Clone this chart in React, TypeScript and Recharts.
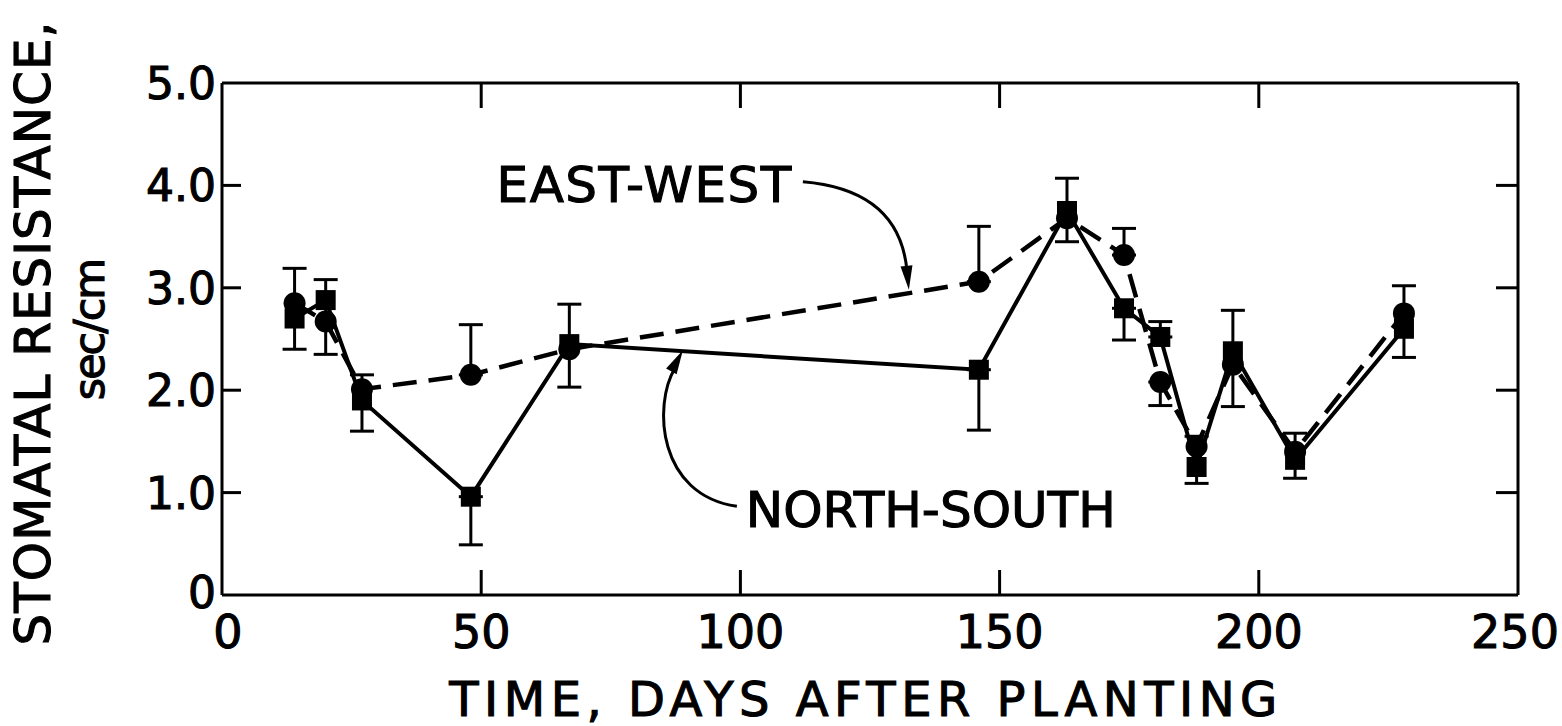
import React from 'react';
import { LineChart, Line, XAxis, YAxis, ErrorBar, ReferenceDot } from 'recharts';

// days after planting
const days = [14, 20, 27, 48, 67, 146, 163, 174, 181, 188, 195, 207, 228];
// stomatal resistance, sec/cm
const eastWest = [2.85, 2.67, 2.01, 2.15, 2.4, 3.06, 3.68, 3.32, 2.08, 1.45, 2.25, 1.4, 2.75];
const northSouth = [2.7, 2.88, 1.9, 0.96, 2.45, 2.2, 3.75, 2.8, 2.52, 1.25, 2.38, 1.32, 2.6];
// error bar ends (null where the series has no bar of its own)
const eastWestBarLow = [2.4, 2.35, 1.6, 2.15, 2.03, 3.06, 3.45, 3.32, 1.85, 1.09, 1.84, 1.14, 2.32];
const eastWestBarHigh = [3.19, 3.08, 2.15, 2.64, 2.84, 3.6, 4.07, 3.58, 2.08, 1.55, 2.78, 1.58, 3.02];
const northSouthBarLow = [null, null, null, 0.49, null, 1.61, null, 2.49, 2.52, null, null, null, null];
const northSouthBarHigh = [null, null, null, 0.96, null, 2.2, null, 2.8, 2.67, null, null, null, null];

const xTicks = [0, 50, 100, 150, 200, 250];
const yTicks = [0, 1, 2, 3, 4, 5];

const FONT = '"DejaVu Sans", sans-serif';
const INK = { fill: '#000', stroke: '#000', strokeWidth: 1.1 };

const toErr = (v: number, lo: number | null, hi: number | null) =>
  lo == null || hi == null ? undefined : [v - lo, hi - v];

const data = days.map((d, i) => ({
  day: d,
  ew: eastWest[i],
  ns: northSouth[i],
  ewErr: toErr(eastWest[i], eastWestBarLow[i], eastWestBarHigh[i]),
  nsErr: toErr(northSouth[i], northSouthBarLow[i], northSouthBarHigh[i]),
}));

const inner = (v: number, min: number, max: number) => v > min && v < max;

const BottomTick = ({ x, y, payload }: any) => (
  <g>
    {inner(payload.value, 0, 250) && (
      <line x1={x} x2={x} y1={y} y2={y - 25} stroke="#000" strokeWidth={3} />
    )}
    <text
      x={payload.value === 0 ? x + 6 : payload.value === 250 ? x - 3 : x}
      y={y + 53}
      textAnchor="middle"
      fontSize={46}
      fontFamily={FONT}
      {...INK}
    >
      {payload.value}
    </text>
  </g>
);

const TopTick = ({ x, y, payload }: any) =>
  inner(payload.value, 0, 250) ? (
    <line x1={x} x2={x} y1={y} y2={y + 25} stroke="#000" strokeWidth={3} />
  ) : (
    <g />
  );

const LeftTick = ({ x, y, payload }: any) => (
  <g>
    {inner(payload.value, 0, 5) && (
      <line x1={x} x2={x + 19} y1={y} y2={y} stroke="#000" strokeWidth={3} />
    )}
    <text
      x={x - 6}
      y={payload.value === 0 ? y + 13 : y + 16}
      textAnchor="end"
      fontSize={44}
      fontFamily={FONT}
      {...INK}
    >
      {payload.value === 0 ? '0' : payload.value.toFixed(1)}
    </text>
  </g>
);

const RightTick = ({ x, y, payload }: any) =>
  inner(payload.value, 0, 5) ? (
    <line x1={x} x2={x - 22} y1={y} y2={y} stroke="#000" strokeWidth={3} />
  ) : (
    <g />
  );

const SquareDot = (props: any) => {
  const { cx, cy } = props;
  if (cx == null || cy == null) return <g />;
  return <rect x={cx - 10} y={cy - 10} width={20} height={20} fill="#000" />;
};

// filled arrowhead pointing from (fx,fy) towards the tip (tx,ty)
const arrowHead = (tx: number, ty: number, fx: number, fy: number, len = 24, half = 6) => {
  const dx = tx - fx;
  const dy = ty - fy;
  const d = Math.hypot(dx, dy);
  const ux = dx / d;
  const uy = dy / d;
  const bx = tx - ux * len;
  const by = ty - uy * len;
  return `${tx},${ty} ${bx - uy * half},${by + ux * half} ${bx + uy * half},${by - ux * half}`;
};

const EastWestNote = ({ cx, cy }: any) => {
  if (cx == null) return <g />;
  return (
    <g transform={`translate(${cx},${cy})`}>
      <text x={-116} y={-88} textAnchor="end" fontSize={50} letterSpacing={1.5} fontFamily={FONT} {...INK}>
        EAST-WEST
      </text>
      <path d="M -106 -108 Q -10 -100 -2 -20" fill="none" stroke="#000" strokeWidth={3} />
      <polygon points={arrowHead(0, 0, -10, -100)} fill="#000" />
    </g>
  );
};

const NorthSouthNote = ({ cx, cy }: any) => {
  if (cx == null) return <g />;
  return (
    <g transform={`translate(${cx},${cy})`}>
      <text x={63} y={177} textAnchor="start" fontSize={50} fontFamily={FONT} {...INK}>
        NORTH-SOUTH
      </text>
      <path d="M 54 156 C -25 145 -30 55 -8 18" fill="none" stroke="#000" strokeWidth={3} />
      <polygon points={arrowHead(0, 0, -30, 55)} fill="#000" />
    </g>
  );
};

export default function App() {
  return (
    <div style={{ position: 'absolute', left: 0, top: 0, background: '#fff' }}>
      <div style={{ position: 'relative', width: 1562, height: 726 }}>
        <LineChart
          width={1562}
          height={726}
          data={data}
          margin={{ top: 63, right: 24, bottom: 71, left: 142 }}
        >
          <XAxis
            dataKey="day"
            type="number"
            domain={[0, 250]}
            ticks={xTicks}
            interval={0}
            height={60}
            tickSize={0}
            tickMargin={0}
            tickLine={false}
            axisLine={{ stroke: '#000', strokeWidth: 3 }}
            tick={<BottomTick />}
            allowDataOverflow
          />
          <XAxis
            xAxisId="top"
            orientation="top"
            dataKey="day"
            type="number"
            domain={[0, 250]}
            ticks={xTicks}
            interval={0}
            height={20}
            tickSize={0}
            tickMargin={0}
            tickLine={false}
            axisLine={{ stroke: '#000', strokeWidth: 3 }}
            tick={<TopTick />}
            allowDataOverflow
          />
          <YAxis
            type="number"
            domain={[0, 5]}
            ticks={yTicks}
            interval={0}
            width={80}
            tickSize={0}
            tickMargin={0}
            tickLine={false}
            axisLine={{ stroke: '#000', strokeWidth: 3 }}
            tick={<LeftTick />}
            allowDataOverflow
          />
          <YAxis
            yAxisId="right"
            orientation="right"
            type="number"
            domain={[0, 5]}
            ticks={yTicks}
            interval={0}
            width={20}
            tickSize={0}
            tickMargin={0}
            tickLine={false}
            axisLine={{ stroke: '#000', strokeWidth: 3 }}
            tick={<RightTick />}
            allowDataOverflow
          />
          <Line
            dataKey="ns"
            stroke="#000"
            strokeWidth={4}
            dot={<SquareDot />}
            activeDot={false}
            isAnimationActive={false}
          >
            <ErrorBar dataKey="nsErr" width={12} stroke="#000" strokeWidth={3} direction="y" />
          </Line>
          <Line
            dataKey="ew"
            stroke="#000"
            strokeWidth={4.5}
            strokeDasharray="24 12"
            dot={{ r: 11, fill: '#000', stroke: '#000', strokeWidth: 0 }}
            activeDot={false}
            isAnimationActive={false}
          >
            <ErrorBar dataKey="ewErr" width={12} stroke="#000" strokeWidth={3} direction="y" />
          </Line>
          <ReferenceDot x={132.5} y={2.98} r={0} shape={(p: any) => <EastWestNote cx={p.cx} cy={p.cy} />} />
          <ReferenceDot x={88.9} y={2.39} r={0} shape={(p: any) => <NorthSouthNote cx={p.cx} cy={p.cy} />} />
        </LineChart>
        <svg
          width={1562}
          height={726}
          style={{ position: 'absolute', left: 0, top: 0, pointerEvents: 'none' }}
        >
          <text
            x={50}
            y={333}
            transform="rotate(-90 50 333)"
            textAnchor="middle"
            fontSize={50}
            letterSpacing={1}
            fontFamily={FONT}
            {...INK}
          >
            STOMATAL RESISTANCE,
          </text>
          <text
            x={104}
            y={330}
            transform="rotate(-90 104 330)"
            textAnchor="middle"
            fontSize={43}
            letterSpacing={-2}
            fontFamily={FONT}
            {...INK}
          >
            sec/cm
          </text>
          <text
            x={866}
            y={716}
            textAnchor="middle"
            fontSize={48}
            letterSpacing={5.5}
            fontFamily={FONT}
            {...INK}
          >
            TIME, DAYS AFTER PLANTING
          </text>
        </svg>
      </div>
    </div>
  );
}
